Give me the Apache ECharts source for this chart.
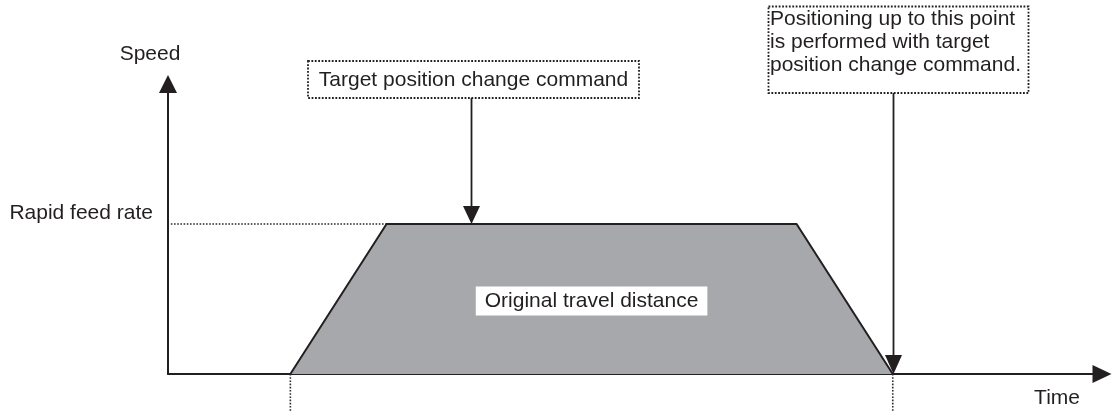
<!DOCTYPE html>
<html><head><meta charset="utf-8">
<script src="https://cdn.jsdelivr.net/npm/echarts@6/dist/echarts.min.js"></script>
<style>html,body{margin:0;padding:0;background:#fff}#c{width:1117px;height:414px}</style>
</head><body><div id="c"></div>
<script>
// ---- data ----
const profileTime  = [13.1, 23.4, 67.3, 77.6];   // accel start, reach rapid, decel start, stop
const profileSpeed = [0, 51.7, 51.7, 0];
const rapidFeedRate = 51.7;
const commandTime = 32.4;
const yTickLabel = 'Rapid feed rate';
const axisNames = { x: 'Time', y: 'Speed' };
const noteCommand = 'Target position change command';
const notePositioning = 'Positioning up to this point\nis performed with target\nposition change command.';
const areaLabel = 'Original travel distance';

const INK = '#231f20';
const FONT = '21px "Liberation Sans", Arial, sans-serif';
const FAM = '"Liberation Sans", Arial, sans-serif';

const chart = echarts.init(document.getElementById('c'), null, { renderer: 'canvas' });

const dotted = { color: '#2a2a2a', width: 1.6, type: [1.6, 1.6] };

const option = {
  animation: false,
  backgroundColor: '#fff',
  grid: { left: 168, right: 15, top: 84, bottom: 40, containLabel: false },
  xAxis: {
    type: 'value', min: 0, max: 100,
    name: axisNames.x, nameLocation: 'end', nameGap: -22,
    nameTextStyle: { fontFamily: FAM, fontSize: 21, color: INK, align: 'right', verticalAlign: 'top', padding: [14, 0, 0, 0] },
    axisLine: { show: true, onZero: true, symbol: ['none', 'triangle'], symbolSize: [18, 19], lineStyle: { color: INK, width: 2 } },
    axisTick: { show: false }, axisLabel: { show: false }, splitLine: { show: false }
  },
  yAxis: {
    type: 'value', min: 0, max: 100, interval: rapidFeedRate,
    name: axisNames.y, nameLocation: 'end', nameGap: 19,
    nameTextStyle: { fontFamily: FAM, fontSize: 21, color: INK, padding: [0, 36, 0, 0] },
    axisLine: { show: true, symbol: ['none', 'triangle'], symbolSize: [18, 18], lineStyle: { color: INK, width: 2 } },
    axisTick: { show: false }, splitLine: { show: false },
    axisLabel: {
      show: true, margin: 15, fontFamily: FAM, fontSize: 21, color: INK, verticalAlign: 'bottom',
      formatter: v => Math.abs(v - rapidFeedRate) < 1e-6 ? yTickLabel : ''
    }
  },
  series: [
    {
      type: 'line', z: 3, symbol: 'none', silent: true,
      data: profileTime.map((t, i) => [t, profileSpeed[i]]),
      lineStyle: { color: INK, width: 2 },
      areaStyle: { color: '#a7a8ab', opacity: 1 }
    },
    { type: 'line', z: 2, symbol: 'none', silent: true, lineStyle: dotted,
      data: [[0.3, rapidFeedRate], [profileTime[1], rapidFeedRate]] },
    { type: 'line', z: 2, symbol: 'none', silent: true, clip: false, lineStyle: dotted,
      data: [[profileTime[0], 0], [profileTime[0], -12.8]] },
    { type: 'line', z: 2, symbol: 'none', silent: true, clip: false, lineStyle: dotted,
      data: [[profileTime[3], 0], [profileTime[3], -12.8]] }
  ]
};
chart.setOption(option);

const px = (t, v) => chart.convertToPixel({ gridIndex: 0 }, [t, v]);
const cmdTip = px(commandTime, rapidFeedRate);
const endTip = px(profileTime[3], 0);
const center = px((profileTime[0] + profileTime[3]) / 2, rapidFeedRate / 2);

function arrow(x, y0, tip, len) {
  return [
    { type: 'line', z: 20, shape: { x1: x, y1: y0, x2: x, y2: tip[1] - len + 1 }, style: { stroke: INK, lineWidth: 1.8 } },
    { type: 'polygon', z: 20, shape: { points: [[x - 8.5, tip[1] - len], [x + 8.5, tip[1] - len], [x, tip[1]]] }, style: { fill: INK } }
  ];
}
const boxStyle = { fill: '#fff', stroke: INK, lineWidth: 1.8, lineDash: [1.8, 1.6] };

chart.setOption({
  graphic: [
    { type: 'rect', z: 20, shape: { x: 308, y: 61, width: 331, height: 37 }, style: boxStyle },
    { type: 'text', z: 21, style: { text: noteCommand, x: 473.5, y: 80, font: FONT, fill: INK,
        textAlign: 'center', align: 'center', textVerticalAlign: 'middle', verticalAlign: 'middle' } },
    ...arrow(Math.round(cmdTip[0]) + 0.5, 98, cmdTip, 18),
    { type: 'rect', z: 20, shape: { x: 768.5, y: 6.5, width: 260, height: 86.5 }, style: boxStyle },
    { type: 'text', z: 21, style: { text: notePositioning, x: 770, y: 8, font: FONT, fill: INK, lineHeight: 23,
        textAlign: 'left', align: 'left', textVerticalAlign: 'top', verticalAlign: 'top' } },
    ...arrow(Math.round(endTip[0]) + 0.5, 93, endTip, 19),
    { type: 'text', z: 21, style: { text: areaLabel, x: center[0], y: center[1] + 2, font: FONT, fill: INK,
        backgroundColor: '#fff', padding: [4, 9, 4, 9],
        textAlign: 'center', align: 'center', textVerticalAlign: 'middle', verticalAlign: 'middle' } }
  ]
});
</script></body></html>
